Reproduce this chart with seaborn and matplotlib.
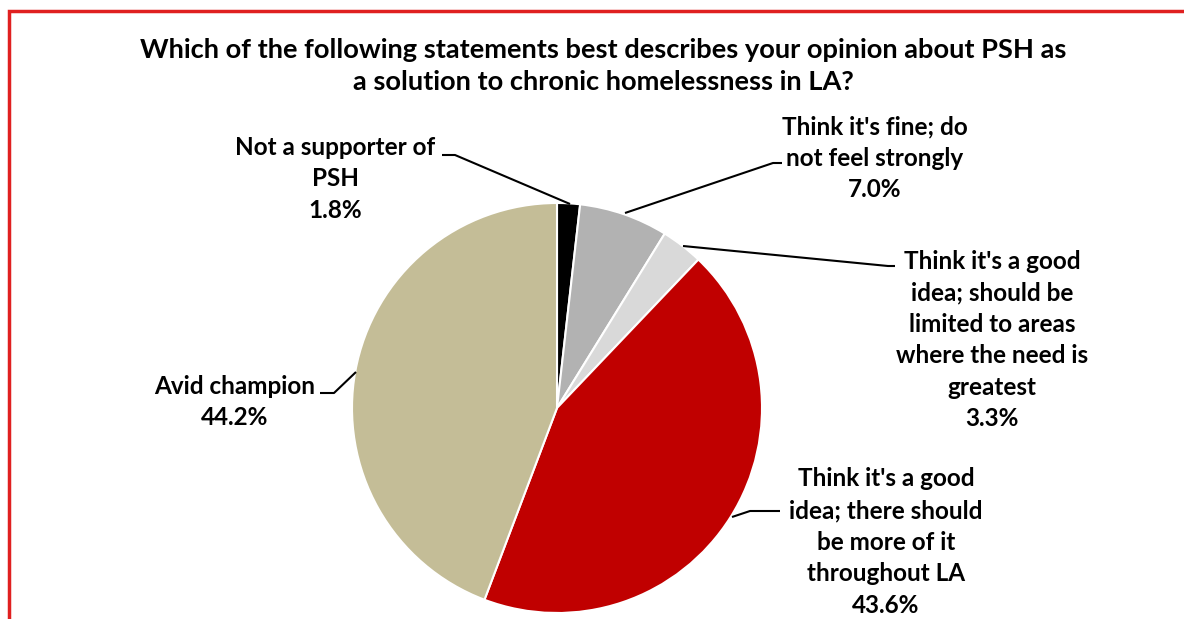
import seaborn as sns
import matplotlib.pyplot as plt
from matplotlib.patches import Rectangle

# data
labels = ["Not a supporter of\nPSH",
          "Think it's fine; do\nnot feel strongly",
          "Think it's a good\nidea; should be\nlimited to areas\nwhere the need is\ngreatest",
          "Think it's a good\nidea; there should\nbe more of it\nthroughout LA",
          "Avid champion"]
values = [1.8, 7.0, 3.3, 43.6, 44.2]
colors = ["#000000", "#b2b2b2", "#d9d9d9", "#c00000", "#c4bd97"]
title = ("Which of the following statements best describes your opinion about PSH as\n"
         "a solution to chronic homelessness in LA?")

sns.set_theme(style="white")
plt.rcParams['font.family'] = ['Lato', 'DejaVu Sans']

W, H = 1184, 619
fig = plt.figure(figsize=(W / 100, H / 100), dpi=100)
ax = fig.add_axes([0, 0, 1, 1])

def Y(y):
    return H - y

cx, cy, r = 557, Y(408), 205
ax.pie(values, colors=colors, startangle=90, counterclock=False,
       center=(cx, cy), radius=r, frame=True,
       wedgeprops=dict(edgecolor="white", linewidth=1.5))
ax.set_xlim(0, W)
ax.set_ylim(0, H)
ax.set_aspect("equal")
ax.axis("off")

# label positions (text center) and leader lines
text_pos = [(335, 179), (875, 158), (992, 340), (886, 542), (235, 402)]
leaders = [
    [(442, 155), (455, 155), (570, 204)],
    [(782, 163), (773, 163), (625, 213)],
    [(895, 266), (888, 266), (683, 246)],
    [(780, 511), (750, 511), (732, 517)],
    [(320, 393), (334, 393), (356, 372)],
]
for lab, v, (tx, ty), pts in zip(labels, values, text_pos, leaders):
    ax.text(tx, Y(ty), f"{lab}\n{v:.1f}%", ha="center", va="center",
            fontsize=17.5, fontweight="bold", color="black", linespacing=1.45)
    ax.plot([p[0] for p in pts], [Y(p[1]) for p in pts], color="black", lw=1.5,
            solid_capstyle="butt")

ax.text(603, Y(66), title, ha="center", va="center", fontsize=19.6,
        fontweight="bold", color="black", linespacing=1.35)

# red frame
fig.patches.append(Rectangle((9 / W, 0 - 0.05), 1.2, (H - 11) / H + 0.05,
                             transform=fig.transFigure, fill=False,
                             edgecolor="#e02020", linewidth=2.5, clip_on=False))

fig.savefig("out.png", dpi=100)
